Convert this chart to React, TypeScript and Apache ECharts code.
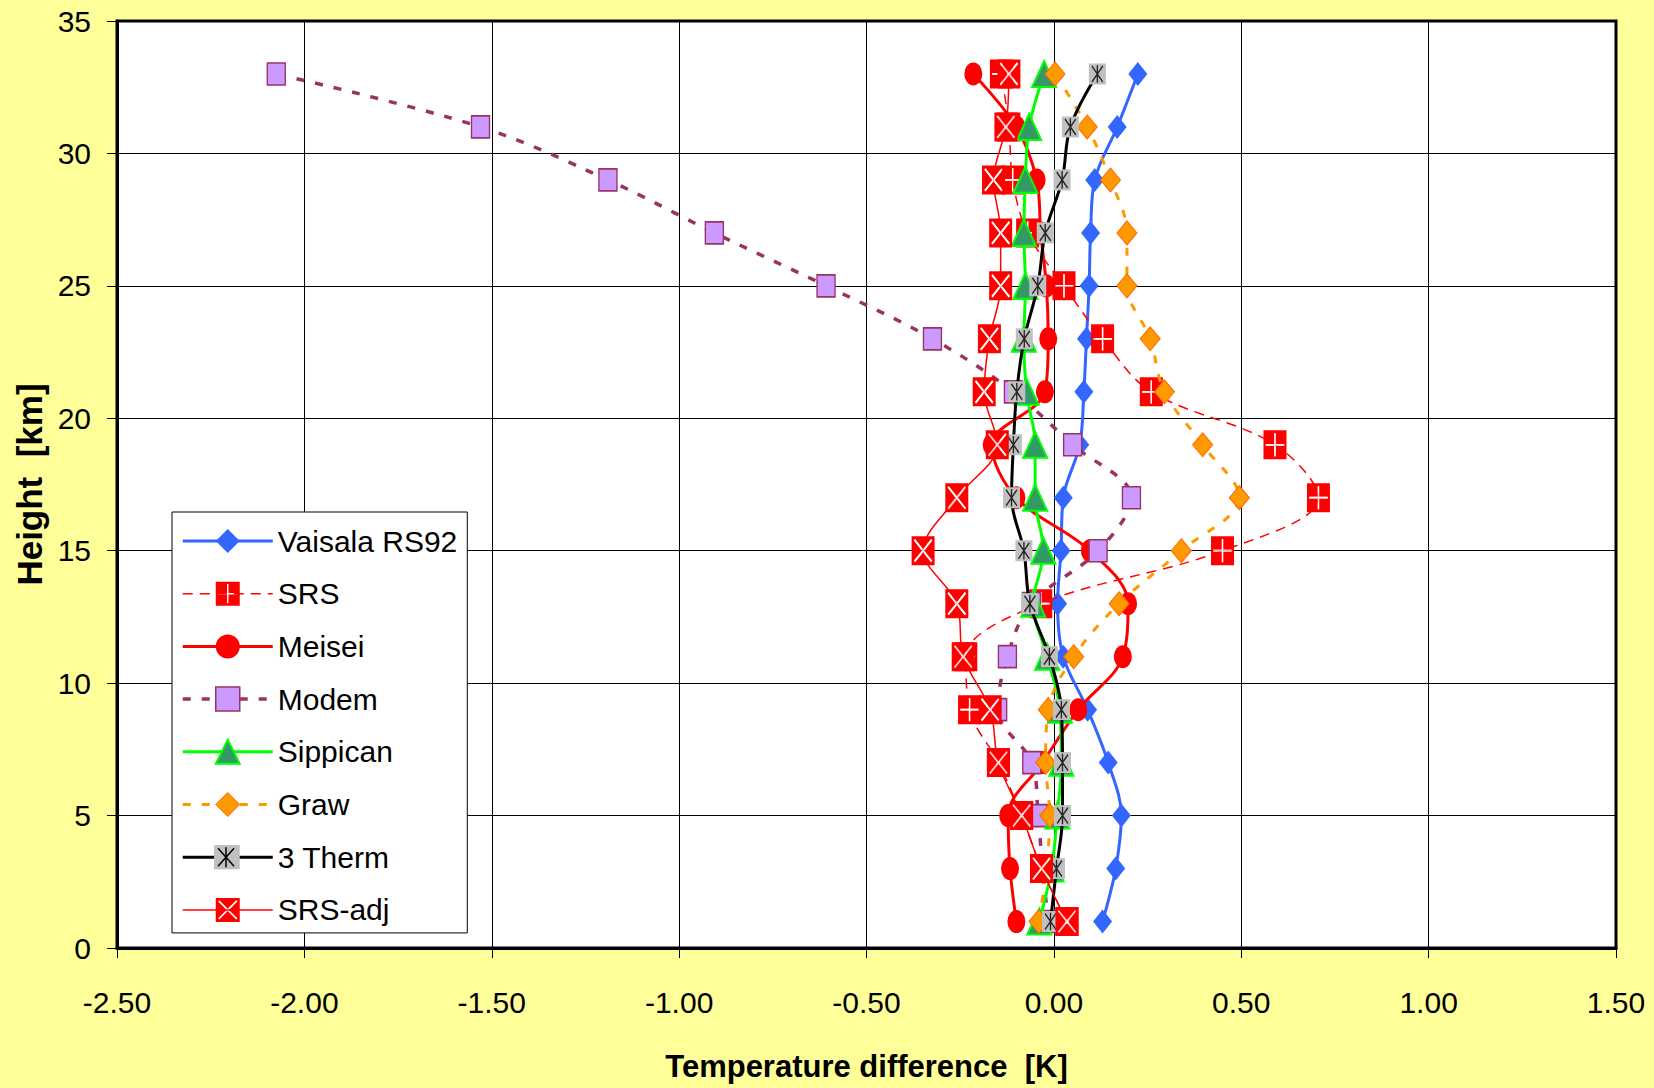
import React, { useEffect, useRef } from 'react';
import * as echarts from 'echarts';

// ---------- data (x = temperature difference [K], y = height [km]) ----------
const heightsKm = [1, 3, 5, 7, 9, 11, 13, 15, 17, 19, 21, 23, 25, 27, 29, 31, 33];

const vaisalaRS92 = [0.13, 0.165, 0.18, 0.145, 0.09, 0.025, 0.01, 0.019, 0.025, 0.069, 0.08, 0.087, 0.094, 0.098, 0.109, 0.169, 0.224];
const srs = [0.035, -0.033, -0.086, -0.148, -0.225, -0.235, -0.035, 0.45, 0.706, 0.59, 0.26, 0.13, 0.027, -0.07, -0.11, -0.12, -0.14];
const meisei = [-0.1, -0.117, -0.122, -0.03, 0.065, 0.184, 0.198, 0.096, -0.1, -0.166, -0.024, -0.015, -0.02, -0.035, -0.046, -0.1, -0.215];
const modem = [-0.015, -0.03, -0.042, -0.059, -0.15, -0.124, -0.06, 0.118, 0.207, 0.05, -0.108, -0.324, -0.608, -0.906, -1.19, -1.53, -2.075];
const sippican = [-0.039, -0.006, 0.009, 0.02, 0.016, -0.018, -0.055, -0.028, -0.05, -0.05, -0.073, -0.08, -0.076, -0.08, -0.076, -0.066, -0.026];
const graw = [-0.04, -0.02, -0.011, -0.022, -0.015, 0.053, 0.174, 0.34, 0.495, 0.397, 0.295, 0.257, 0.195, 0.195, 0.151, 0.089, 0.003];
const threeTherm = [-0.009, 0.007, 0.023, 0.023, 0.02, -0.012, -0.064, -0.08, -0.113, -0.108, -0.099, -0.079, -0.043, -0.023, 0.022, 0.044, 0.116];
const srsAdj = [0.035, -0.033, -0.086, -0.148, -0.17, -0.242, -0.259, -0.349, -0.259, -0.151, -0.186, -0.172, -0.142, -0.142, -0.161, -0.128, -0.12];

const seriesNames = ['Vaisala RS92', 'SRS', 'Meisei', 'Modem', 'Sippican', 'Graw', '3 Therm', 'SRS-adj'];

const xMin = -2.5;
const xMax = 1.5;
const xStep = 0.5;
const yMin = 0;
const yMax = 35;
const yStep = 5;

// ---------- styling ----------
const FONT = "'Liberation Sans', Arial, Helvetica, sans-serif";

const SQ = 'M0 0 L100 0 L100 100 L0 100 Z ';
const PLUS_CW = 'M47 10 L53 10 L53 47 L90 47 L90 53 L53 53 L53 90 L47 90 L47 53 L10 53 L10 47 L47 47 Z';
const PLUS_HOLE = 'M47 47 L10 47 L10 53 L47 53 L47 90 L53 90 L53 53 L90 53 L90 47 L53 47 L53 10 L47 10 Z';
const X_CW = 'M15 10 L50 45 L85 10 L90 15 L55 50 L90 85 L85 90 L50 55 L15 90 L10 85 L45 50 L10 15 Z';
const X_HOLE = 'M10 15 L45 50 L10 85 L15 90 L50 55 L85 90 L90 85 L55 50 L90 15 L85 10 L50 45 L15 10 Z';
const ASTERISK = 'M46 8 L54 8 L54 92 L46 92 Z M21 9.4 L85 85.4 L79 90.6 L15 14.6 Z M85 14.6 L21 90.6 L15 85.4 L79 9.4 Z';
const ELLIPSE = 'path://M50 0 A50 50 0 1 1 50 100 A50 50 0 1 1 50 0 Z';

const pairs = (vals: number[]) => vals.map((v, i) => [v, heightsKm[i]]);

const SMOOTH = 0.35;

function buildOption() {
  const series: any[] = [
    {
      name: seriesNames[0], type: 'line', data: pairs(vaisalaRS92), smooth: SMOOTH, z: 2,
      symbol: 'diamond', symbolSize: [19, 24],
      lineStyle: { color: '#3366FF', width: 3 },
      itemStyle: { color: '#3366FF' },
    },
    {
      name: seriesNames[1], type: 'line', data: pairs(srs), smooth: SMOOTH, z: 3,
      symbol: 'path://' + SQ + PLUS_HOLE, symbolSize: [23, 29],
      lineStyle: { color: '#FF0000', width: 1.5, type: [10, 7] },
      itemStyle: { color: '#FF0000' },
    },
    {
      name: 'SRS marks', type: 'scatter', data: pairs(srs), silent: true, z: 4,
      symbol: 'path://' + PLUS_CW, symbolSize: [18.4, 23.2],
      itemStyle: { color: '#FFFFFF' },
    },
    {
      name: seriesNames[2], type: 'line', data: pairs(meisei), smooth: SMOOTH, z: 5,
      symbol: ELLIPSE, symbolSize: [18, 23],
      lineStyle: { color: '#FF0000', width: 3 },
      itemStyle: { color: '#FF0000' },
    },
    {
      name: seriesNames[3], type: 'line', data: pairs(modem), smooth: SMOOTH, z: 6,
      symbol: 'rect', symbolSize: [18, 22],
      lineStyle: { color: '#993366', width: 3.5, type: [8, 11] },
      itemStyle: { color: '#CC99FF', borderColor: '#993366', borderWidth: 1.5 },
    },
    {
      name: seriesNames[4], type: 'line', data: pairs(sippican), smooth: SMOOTH, z: 7,
      symbol: 'triangle', symbolSize: [24, 26],
      lineStyle: { color: '#00FF00', width: 3 },
      itemStyle: { color: '#339966', borderColor: '#00FF00', borderWidth: 2 },
    },
    {
      name: seriesNames[5], type: 'line', data: pairs(graw), smooth: SMOOTH, z: 8,
      symbol: 'diamond', symbolSize: [20, 24],
      lineStyle: { color: '#FF9900', width: 3, type: [8, 11] },
      itemStyle: { color: '#FF9900', borderColor: '#FF6600', borderWidth: 1 },
    },
    {
      name: seriesNames[6], type: 'line', data: pairs(threeTherm), smooth: SMOOTH, z: 9,
      symbol: 'rect', symbolSize: [17, 21],
      lineStyle: { color: '#000000', width: 3 },
      itemStyle: { color: '#C0C0C0' },
    },
    {
      name: '3 Therm marks', type: 'scatter', data: pairs(threeTherm), silent: true, z: 10,
      symbol: 'path://' + ASTERISK, symbolSize: [11.9, 17.6],
      itemStyle: { color: '#000000' },
    },
    {
      name: seriesNames[7], type: 'line', data: pairs(srsAdj), smooth: SMOOTH, z: 11,
      symbol: 'path://' + SQ + X_HOLE, symbolSize: [23, 29],
      lineStyle: { color: '#FF0000', width: 1.5 },
      itemStyle: { color: '#FF0000' },
    },
    {
      name: 'SRS-adj marks', type: 'scatter', data: pairs(srsAdj), silent: true, z: 12,
      symbol: 'path://' + X_CW, symbolSize: [18.4, 23.2],
      itemStyle: { color: '#FFFFFF' },
    },
  ];

  const legendStyles: any[] = [
    { itemStyle: { color: '#3366FF', borderWidth: 0 }, lineStyle: { color: '#3366FF', width: 3, type: 'solid' } },
    { itemStyle: { color: '#FF0000', borderWidth: 0 }, lineStyle: { color: '#FF0000', width: 1.5, type: [10, 7] } },
    { itemStyle: { color: '#FF0000', borderWidth: 0 }, lineStyle: { color: '#FF0000', width: 3, type: 'solid' } },
    { itemStyle: { color: '#CC99FF', borderColor: '#993366', borderWidth: 1.5 }, lineStyle: { color: '#993366', width: 3.5, type: [8, 11] } },
    { itemStyle: { color: '#339966', borderColor: '#00FF00', borderWidth: 2 }, lineStyle: { color: '#00FF00', width: 3, type: 'solid' } },
    { itemStyle: { color: '#FF9900', borderColor: '#FF6600', borderWidth: 1 }, lineStyle: { color: '#FF9900', width: 3, type: [8, 11] } },
    { itemStyle: { color: '#C0C0C0', borderWidth: 0 }, lineStyle: { color: '#000000', width: 3, type: 'solid' } },
    { itemStyle: { color: '#FF0000', borderWidth: 0 }, lineStyle: { color: '#FF0000', width: 1.5, type: 'solid' } },
  ];

  // legend geometry
  const lgLeft = 172;
  const lgTop = 512;
  const lgPad = [14, 10, 8, 9];
  const lgItemW = 90;
  const lgItemH = 30;
  const lgGap = 22.7;
  const thermRow = 6;
  const cx = lgLeft + lgPad[3] + lgItemW / 2;
  const cy = lgTop + lgPad[0] + thermRow * (lgItemH + lgGap) + lgItemH / 2;

  return {
    animation: false,
    backgroundColor: '#FFFF99',
    textStyle: { fontFamily: FONT },
    grid: {
      left: 117, right: 38, top: 21, bottom: 140,
      show: true, backgroundColor: '#FFFFFF', borderColor: '#000000', borderWidth: 3,
    },
    xAxis: {
      type: 'value', min: xMin, max: xMax, interval: xStep,
      axisLine: { show: true, onZero: false, lineStyle: { color: '#000000', width: 3 } },
      axisTick: { show: true, length: 10, lineStyle: { color: '#000000', width: 1 } },
      axisLabel: {
        fontSize: 30, color: '#000000', fontFamily: FONT, margin: 39,
        formatter: (v: number) => v.toFixed(2),
      },
      splitLine: { show: true, lineStyle: { color: '#000000', width: 1 } },
      name: 'Temperature difference  [K]', nameLocation: 'middle', nameGap: 103,
      nameTextStyle: { fontSize: 31, fontWeight: 'bold', color: '#000000', fontFamily: FONT },
    },
    yAxis: {
      type: 'value', min: yMin, max: yMax, interval: yStep,
      axisLine: { show: true, onZero: false, lineStyle: { color: '#000000', width: 3 } },
      axisTick: { show: true, length: 10, lineStyle: { color: '#000000', width: 1 } },
      axisLabel: { fontSize: 30, color: '#000000', fontFamily: FONT, margin: 26 },
      splitLine: { show: true, lineStyle: { color: '#000000', width: 1 } },
      name: 'Height  [km]', nameLocation: 'middle', nameGap: 67,
      nameTextStyle: { fontSize: 35, fontWeight: 'bold', color: '#000000', fontFamily: FONT },
    },
    legend: {
      orient: 'vertical', left: lgLeft, top: lgTop, padding: lgPad, z: 50,
      itemWidth: lgItemW, itemHeight: lgItemH, itemGap: lgGap,
      backgroundColor: '#FFFFFF', borderColor: '#000000', borderWidth: 1,
      selectedMode: false,
      textStyle: { fontFamily: FONT, fontSize: 30, color: '#000000' },
      data: seriesNames.map((n, i) => ({ name: n, ...legendStyles[i] })),
    },
    graphic: [
      { type: 'rect', z: 60, shape: { x: cx - 12, y: cy - 12, width: 24, height: 24 }, style: { fill: '#C0C0C0' } },
      { type: 'line', z: 61, shape: { x1: cx, y1: cy - 10, x2: cx, y2: cy + 10 }, style: { stroke: '#000000', lineWidth: 1.5 } },
      { type: 'line', z: 61, shape: { x1: cx - 8, y1: cy - 9, x2: cx + 8, y2: cy + 9 }, style: { stroke: '#000000', lineWidth: 1.5 } },
      { type: 'line', z: 61, shape: { x1: cx + 8, y1: cy - 9, x2: cx - 8, y2: cy + 9 }, style: { stroke: '#000000', lineWidth: 1.5 } },
    ],
    series,
  };
}

export default function App() {
  const ref = useRef<HTMLDivElement>(null);
  useEffect(() => {
    if (!ref.current) return;
    const chart = echarts.init(ref.current, null, { renderer: 'svg' });
    chart.setOption(buildOption() as any);
    return () => chart.dispose();
  }, []);
  return (
    <div
      ref={ref}
      style={{ position: 'absolute', left: 0, top: 0, width: 1654, height: 1088 }}
    />
  );
}
